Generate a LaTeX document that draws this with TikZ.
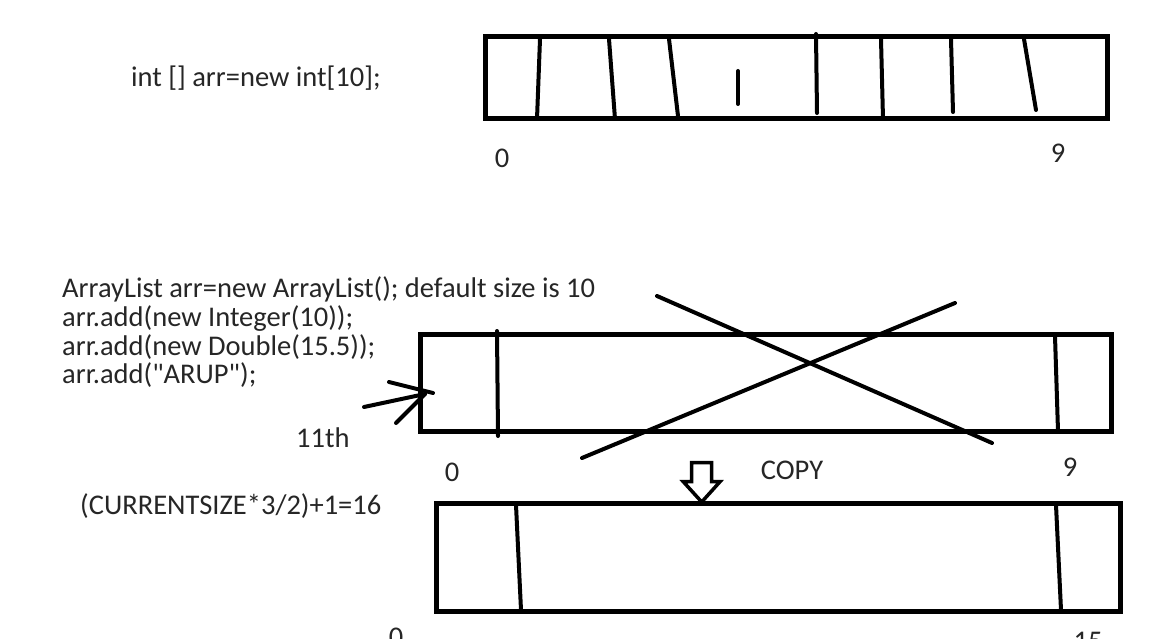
\documentclass[tikz,border=0pt]{standalone}
\usepackage{fontspec}
\setmainfont[Ligatures=TeXOff]{Carlito}
\begin{document}
\begin{tikzpicture}[x=1pt,y=-1pt,
  txt/.style={inner sep=0pt, font=\fontsize{28.5}{34}\selectfont, text=black!85},
  boxline/.style={line width=5pt},
  divline/.style={line width=4pt, line cap=round},
  pen/.style={line width=4pt, line cap=round}]
\useasboundingbox[fill=white] (0,0) rectangle (1152,639);

% ---- top array ----
\node[txt, anchor=base west] (decl) at (131,86.5) {int [] arr=new int[10];};
\draw[boxline] (485,37) rectangle (1107,119);
\draw[divline] (540,39) -- (537,119);
\draw[divline] (609,39) -- (615,119);
\draw[divline] (669,39) -- (678,116);
\draw[divline] (738,71) -- (738,104);
\draw[divline] (816,34) -- (817,113);
\draw[divline] (881,39) -- (883,119);
\draw[divline] (951,39) -- (953,112);
\draw[divline] (1024,39) -- (1036,110);
\node[txt, anchor=base] (t0) at (502,168) {0};
\node[txt, anchor=base] (t9) at (1058,163) {9};

% ---- ArrayList text ----
\node[txt, anchor=base west] (l1) at (62,298) {ArrayList arr=new ArrayList(); default size is 10};
\node[txt, anchor=base west] (l2) at (62,326.5) {arr.add(new Integer(10));};
\node[txt, anchor=base west] (l3) at (62,355) {arr.add(new Double(15.5));};
\node[txt, anchor=base west] (l4) at (62,383.5) {arr.add("ARUP");};
\node[txt, anchor=base west] (eleven) at (296,447) {11th};
\node[txt, anchor=base west] (formula) at (80,514) {(CURRENTSIZE*3/2)+1=16};

% ---- middle array ----
\draw[boxline] (420,334) rectangle (1111,431);
\draw[divline] (497,331) -- (498,436);
\draw[divline] (1055,336) -- (1058,431);
\draw[pen] (657,296) -- (992,443);
\draw[pen] (955,303) -- (582,458);
% arrow into 11th slot
\coordinate (tip) at (425,394);
\draw[pen] (364,407) -- (tip);
\draw[pen] (389,382) -- (433,393);
\draw[pen] (396,423) -- (tip);
\node[txt, anchor=base] (m0) at (452,481) {0};
\node[txt, anchor=base] (copy) at (792,479) {COPY};
\node[txt, anchor=base] (m9) at (1070,476) {9};

% ---- copy arrow ----
\draw[line width=3.5pt, fill=white, line join=miter]
  (691.7,462.7) -- (711.7,462.7) -- (711.7,481.7) -- (720,481.7)
  -- (701.7,502) -- (683.3,481.7) -- (691.7,481.7) -- cycle;

% ---- bottom array ----
\draw[boxline] (436,503) rectangle (1120,611);
\draw[divline] (516,505) -- (521,610);
\draw[divline] (1056,505) -- (1061,610);
\node[txt, anchor=base] (b0) at (396,646) {0};
\node[txt, anchor=base] (b15) at (1088,650) {15};
\end{tikzpicture}
\end{document}
